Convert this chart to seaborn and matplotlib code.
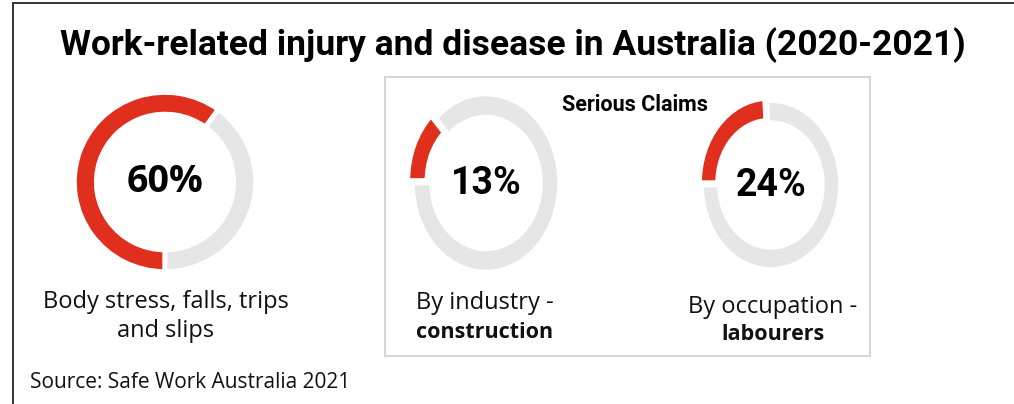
import matplotlib
matplotlib.use("Agg")
import matplotlib.pyplot as plt
import seaborn as sns
from matplotlib.lines import Line2D
from matplotlib.patches import Rectangle

# -----------------------------
# Data
# -----------------------------
shares = [60, 13, 24]
pct_labels = ["60%", "13%", "24%"]
caption_top = ["Body stress, falls, trips", "By industry -", "By occupation -"]
caption_bottom = ["and slips", "construction", "labourers"]
bottom_bold = [False, True, True]

title = "Work-related injury and disease in Australia (2020-2021)"
box_title = "Serious Claims"
source = "Source: Safe Work Australia 2021"

# -----------------------------
# Style
# -----------------------------
sns.set_theme(style="white")
plt.rcParams["font.family"] = ["Roboto", "DejaVu Sans"]
body_font = ["Open Sans", "DejaVu Sans"]

RED = "#e02f1d"
GREY = "#e6e6e6"
W, H = 1014, 404

fig = plt.figure(figsize=(W / 100, H / 100), dpi=100)
fig.patch.set_facecolor("white")


def fx(px):
    return px / W


def fy(py):
    return 1 - py / H


def donut(value, cx, cy, rx, ry, start, explode, pct, font, ring=0.27):
    m = 1.25
    ax = fig.add_axes([fx(cx - rx * m), fy(cy + ry * m), 2 * rx * m / W, 2 * ry * m / H])
    ax.pie(
        [value, 100 - value],
        colors=[RED, GREY],
        startangle=start,
        counterclock=False,
        explode=[explode, 0],
        radius=1.03,
        wedgeprops=dict(width=ring, edgecolor="white", linewidth=3.5),
    )
    ax.set_aspect("auto")
    ax.set_xlim(-m, m)
    ax.set_ylim(-m, m)
    ax.axis("off")
    ax.text(0, 0, pct, ha="center", va="center", fontsize=27,
            fontweight="bold", family=font, color="black")
    return ax


# -----------------------------
# Donuts
# -----------------------------
donut(shares[0], 165, 182, 88, 87, -90, 0.0, pct_labels[0], ["Open Sans", "DejaVu Sans"], ring=0.25)
donut(shares[1], 486, 183, 71.5, 86.5, 180, 0.07, pct_labels[1], ["Roboto", "DejaVu Sans"])
donut(shares[2], 771, 185, 67.5, 82, 180, 0.04, pct_labels[2], ["Roboto", "DejaVu Sans"])

# -----------------------------
# Texts
# -----------------------------
fig.text(fx(513), fy(45), title, ha="center", va="center",
         fontsize=25.5, fontweight="bold", color="black")

fig.text(fx(635), fy(105), box_title, ha="center", va="center",
         fontsize=15.5, fontweight="bold", color="black")

cap_x = [166, 485, 773]
cap_y = [(302, 331), (303, 332), (307, 335)]
for i in range(3):
    fig.text(fx(cap_x[i]), fy(cap_y[i][0]), caption_top[i], ha="center", va="center",
             fontsize=17, family=body_font, color="#111111")
    if bottom_bold[i]:
        fig.text(fx(cap_x[i]), fy(cap_y[i][1]), caption_bottom[i], ha="center", va="center",
                 fontsize=15.5, family=body_font, color="#111111", fontweight="bold")
    else:
        fig.text(fx(cap_x[i]), fy(cap_y[i][1]), caption_bottom[i], ha="center", va="center",
                 fontsize=17, family=body_font, color="#111111")

fig.text(fx(30), fy(383), source, ha="left", va="center", fontsize=15,
         family=body_font, color="#111111")

# -----------------------------
# Frames
# -----------------------------
fig.add_artist(Rectangle((fx(385), fy(356)), fx(870 - 385), (356 - 77) / H,
                         transform=fig.transFigure, fill=False,
                         edgecolor="#d6d6d6", linewidth=1.5))
fig.add_artist(Line2D([fx(13), fx(13)], [0, fy(3)], transform=fig.transFigure,
                      color="#333333", linewidth=1.4))
fig.add_artist(Line2D([fx(13), 1], [fy(3), fy(3)], transform=fig.transFigure,
                      color="#333333", linewidth=1.4))

fig.savefig("out.png", dpi=100, facecolor="white")
